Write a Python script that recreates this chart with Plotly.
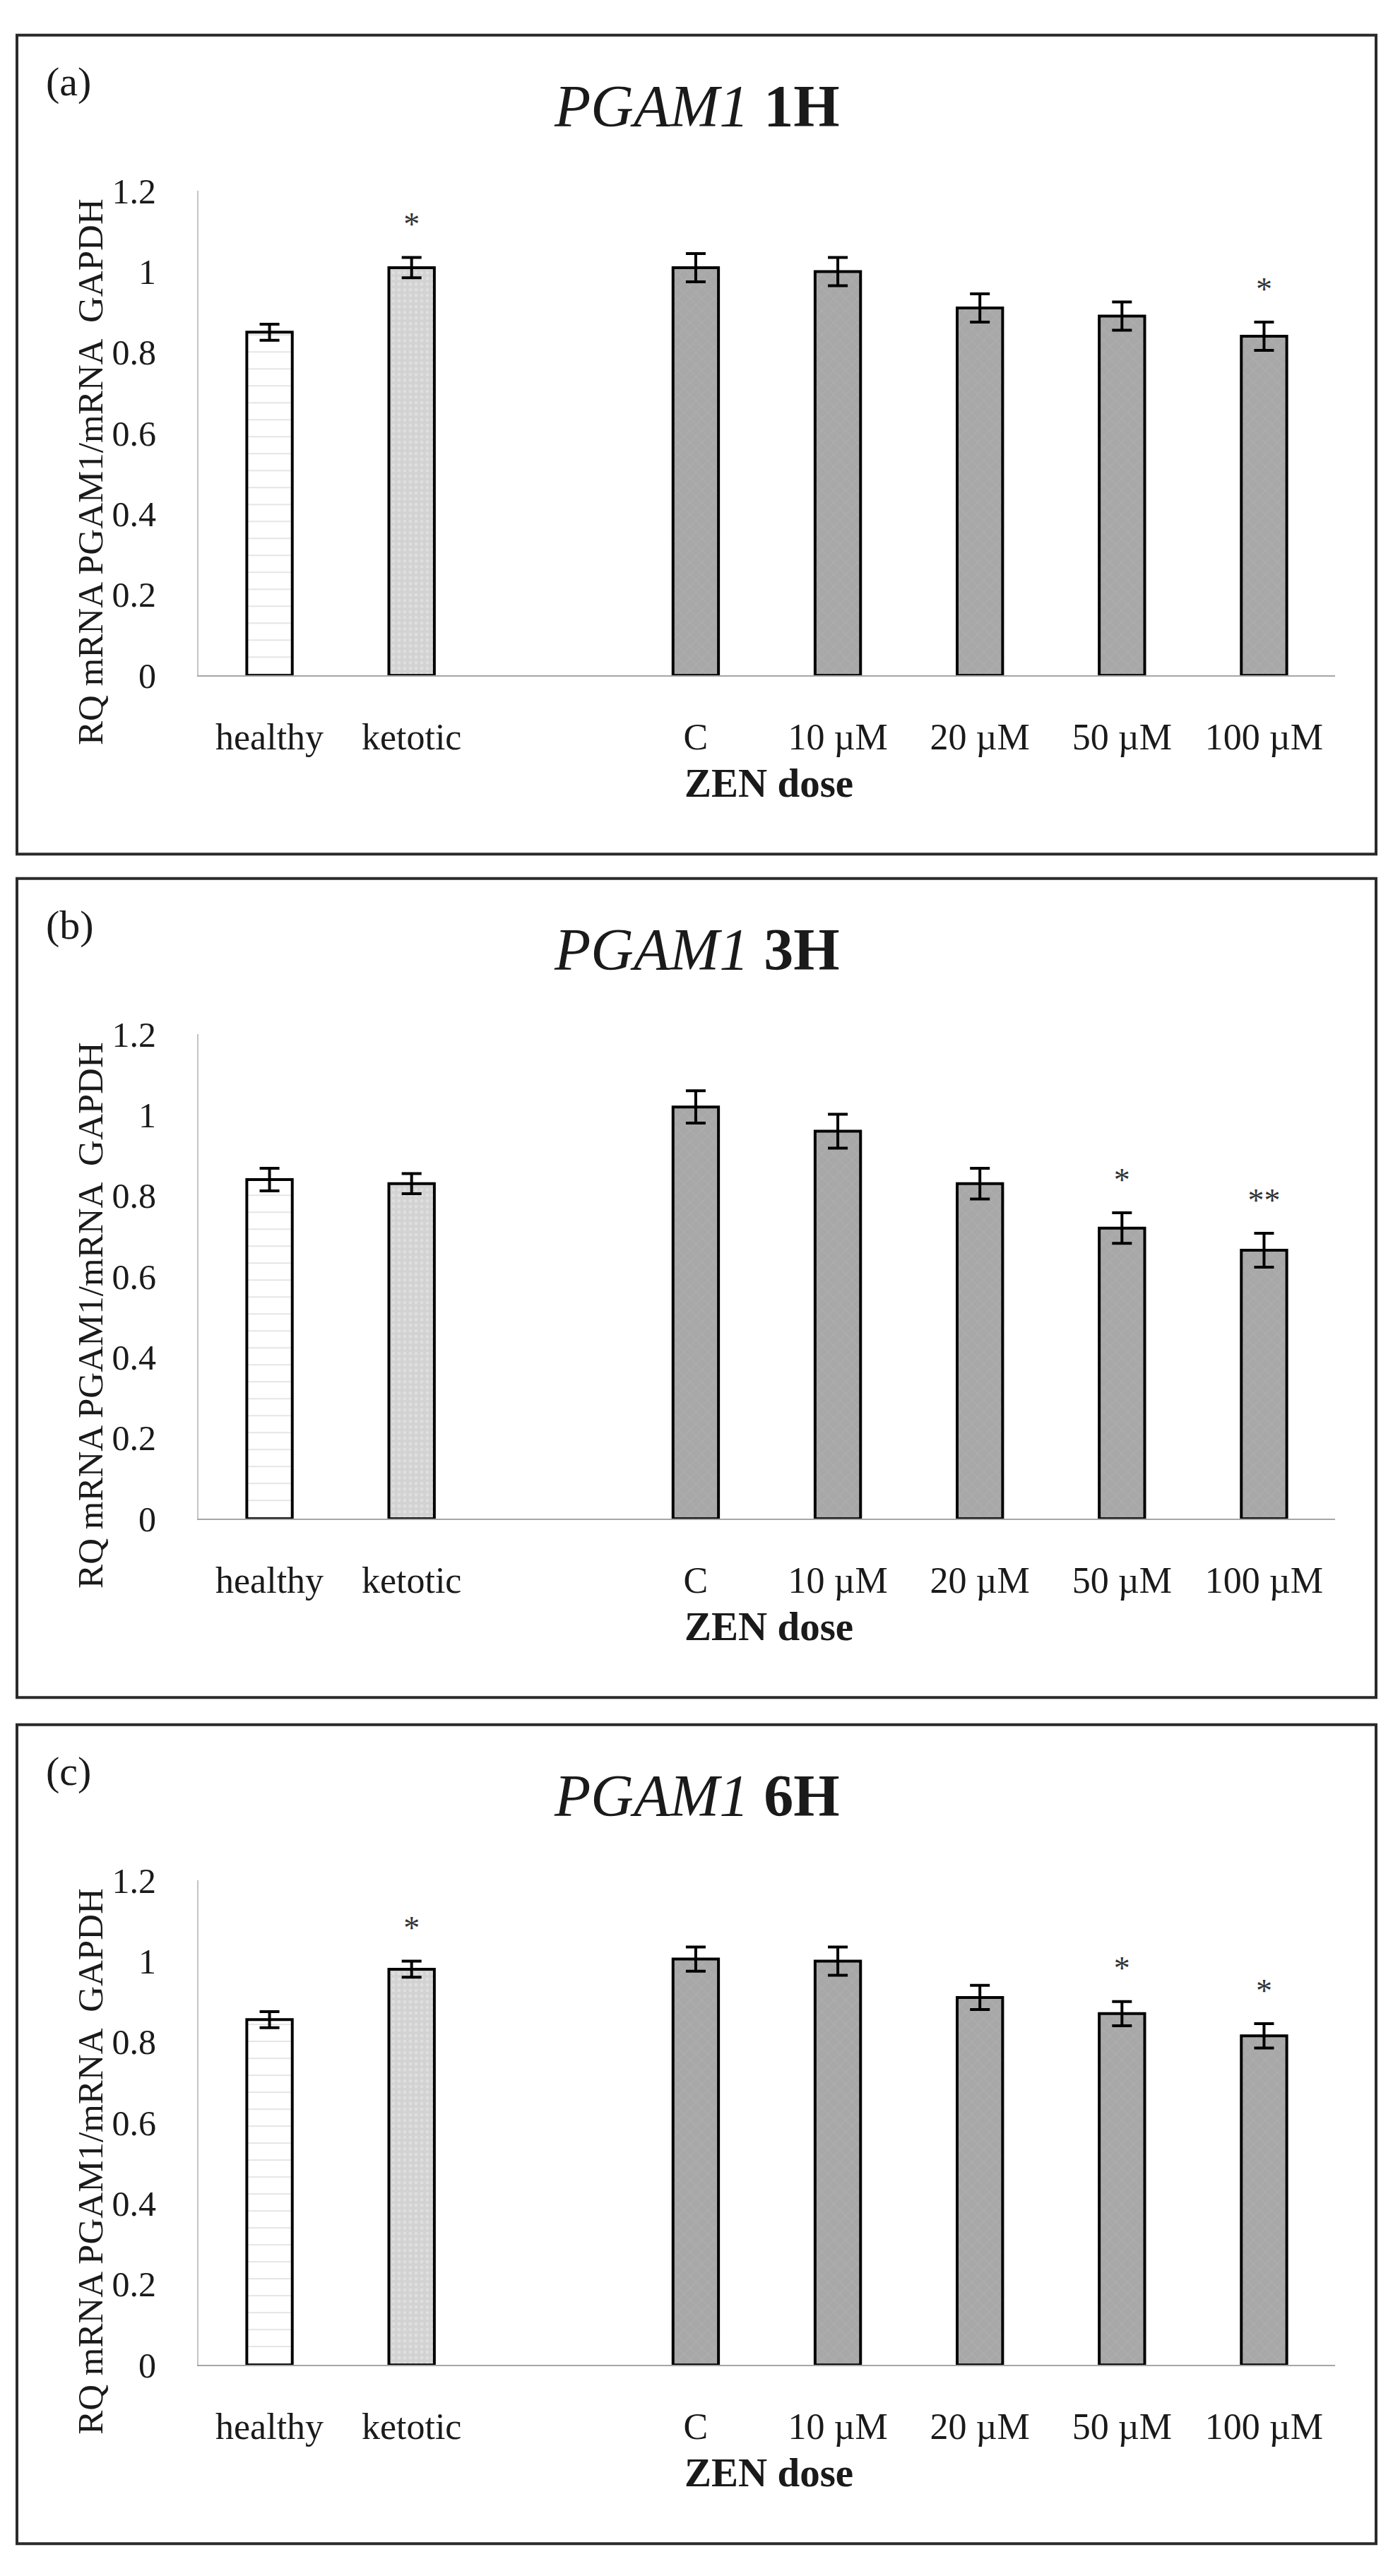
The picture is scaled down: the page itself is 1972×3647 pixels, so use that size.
import plotly.graph_objects as go

# categories on the x axis; the blank one is the gap between the two groups
categories = ["healthy", "ketotic", " ", "C", "10 µM", "20 µM", "50 µM", "100 µM"]
bar_categories = ["healthy", "ketotic", "C", "10 µM", "20 µM", "50 µM", "100 µM"]
y_ticks = [0, 0.2, 0.4, 0.6, 0.8, 1, 1.2]

panel_letters = ["(a)", "(b)", "(c)"]
panel_times = ["1H", "3H", "6H"]

values_1h = [0.85, 1.01, 1.01, 1.00, 0.91, 0.89, 0.84]
errors_1h = [0.02, 0.025, 0.035, 0.035, 0.035, 0.035, 0.035]
stars_1h = ["", "*", "", "", "", "", "*"]

values_3h = [0.84, 0.83, 1.02, 0.96, 0.83, 0.72, 0.665]
errors_3h = [0.028, 0.025, 0.04, 0.042, 0.038, 0.038, 0.042]
stars_3h = ["", "", "", "", "", "*", "**"]

values_6h = [0.855, 0.98, 1.005, 1.0, 0.91, 0.87, 0.815]
errors_6h = [0.02, 0.02, 0.03, 0.035, 0.03, 0.03, 0.03]
stars_6h = ["", "*", "", "", "", "*", "*"]

panels = [
    (values_1h, errors_1h, stars_1h),
    (values_3h, errors_3h, stars_3h),
    (values_6h, errors_6h, stars_6h),
]

# page layout (pixels of the 1972x3647 page); body keeps its 8px margin
W, H = 1956, 3631
PAD = 8
FONT = "Liberation Serif"
TEXT = "#1a1a1a"
box_tops = [22, 1235, 2452]
BOX_H = 1178


def px_x(x):
    return (x - PAD) / W


def px_y(y):
    return 1 - (y - PAD) / H


fig = go.Figure()
annotations = []
shapes = []

for i, (vals, errs, stars) in enumerate(panels):
    n = i + 1
    xa = "x" if n == 1 else f"x{n}"
    ya = "y" if n == 1 else f"y{n}"
    top = box_tops[i]
    plot_top = top + 224
    plot_bottom = top + 921

    line = dict(color="black", width=4)
    err_style = dict(type="data", color="black", thickness=4, width=14, visible=True)

    # healthy: white with faint horizontal dashes
    fig.add_trace(go.Bar(
        x=bar_categories[:1], y=vals[:1], width=0.32, xaxis=xa, yaxis=ya,
        marker=dict(color="white", line=line,
                    pattern=dict(shape="-", fgcolor="#c9c9c9", bgcolor="white",
                                 size=24, solidity=0.08)),
        error_y=dict(array=errs[:1], **err_style),
    ))
    # ketotic: light grey dotted
    fig.add_trace(go.Bar(
        x=bar_categories[1:2], y=vals[1:2], width=0.32, xaxis=xa, yaxis=ya,
        marker=dict(color="#d2d2d2", line=line,
                    pattern=dict(shape=".", fgcolor="#ebebeb", bgcolor="#d2d2d2",
                                 size=8, solidity=0.3)),
        error_y=dict(array=errs[1:2], **err_style),
    ))
    # ZEN doses: darker grey texture
    fig.add_trace(go.Bar(
        x=bar_categories[2:], y=vals[2:], width=0.32, xaxis=xa, yaxis=ya,
        marker=dict(color="#a8a8a8", line=line,
                    pattern=dict(shape="x", fgcolor="#bcbcbc", bgcolor="#a8a8a8",
                                 size=12, solidity=0.15)),
        error_y=dict(array=errs[2:], **err_style),
    ))

    # significance stars above the error bars
    star_x = [c for c, s in zip(bar_categories, stars) if s]
    star_y = [v + e + 0.075 for v, e, s in zip(vals, errs, stars) if s]
    star_t = [s for s in stars if s]
    fig.add_trace(go.Scatter(
        x=star_x, y=star_y, text=star_t, mode="text", xaxis=xa, yaxis=ya,
        textposition="middle center", hoverinfo="skip",
        textfont=dict(family=FONT, size=46, color="#333"),
    ))

    fig.update_layout({
        f"xaxis{'' if n == 1 else n}": dict(
            domain=[px_x(281), px_x(1890)], anchor=ya, type="category",
            categoryorder="array", categoryarray=categories, range=[-0.5, 7.5],
            showline=True, linecolor="#a6a6a6", linewidth=2, ticks="",
            showgrid=False, zeroline=False, ticklabelstandoff=40,
            tickfont=dict(family=FONT, size=52, color=TEXT),
        ),
        f"yaxis{'' if n == 1 else n}": dict(
            domain=[px_y(plot_bottom), px_y(plot_top)], anchor=xa,
            range=[0, 1.2], tickvals=y_ticks, ticks="",
            showline=True, linecolor="#c4c4c4", linewidth=2,
            showgrid=False, zeroline=False, ticklabelstandoff=48,
            tickfont=dict(family=FONT, size=50, color=TEXT),
        ),
    })

    shapes.append(dict(type="rect", xref="paper", yref="paper",
                       x0=px_x(24), x1=px_x(1948), y0=px_y(top + BOX_H), y1=px_y(top),
                       line=dict(color="#2a2a2a", width=4)))

    annotations += [
        dict(text=panel_letters[i], x=px_x(63), y=px_y(top + 67), xanchor="left",
             yanchor="middle", font=dict(family=FONT, size=58, color=TEXT)),
        dict(text=f"<i>PGAM1</i> <b>{panel_times[i]}</b>", x=px_x(986), y=px_y(top + 102),
             xanchor="center", yanchor="middle", font=dict(family=FONT, size=84, color=TEXT)),
        dict(text="RQ mRNA PGAM1/mRNA  GAPDH", textangle=-90, x=px_x(128),
             y=px_y(top + 628), xanchor="center", yanchor="middle",
             font=dict(family=FONT, size=51, color=TEXT)),
        dict(text="<b>ZEN dose</b>", x=px_x(1088), y=px_y(top + 1076), xanchor="center",
             yanchor="middle", font=dict(family=FONT, size=57, color=TEXT)),
    ]

for a in annotations:
    a.update(xref="paper", yref="paper", showarrow=False)

fig.update_layout(
    width=W, height=H, margin=dict(l=0, r=0, t=0, b=0),
    paper_bgcolor="white", plot_bgcolor="white",
    showlegend=False, barmode="overlay",
    annotations=annotations, shapes=shapes,
)

fig.write_html("out.html")
